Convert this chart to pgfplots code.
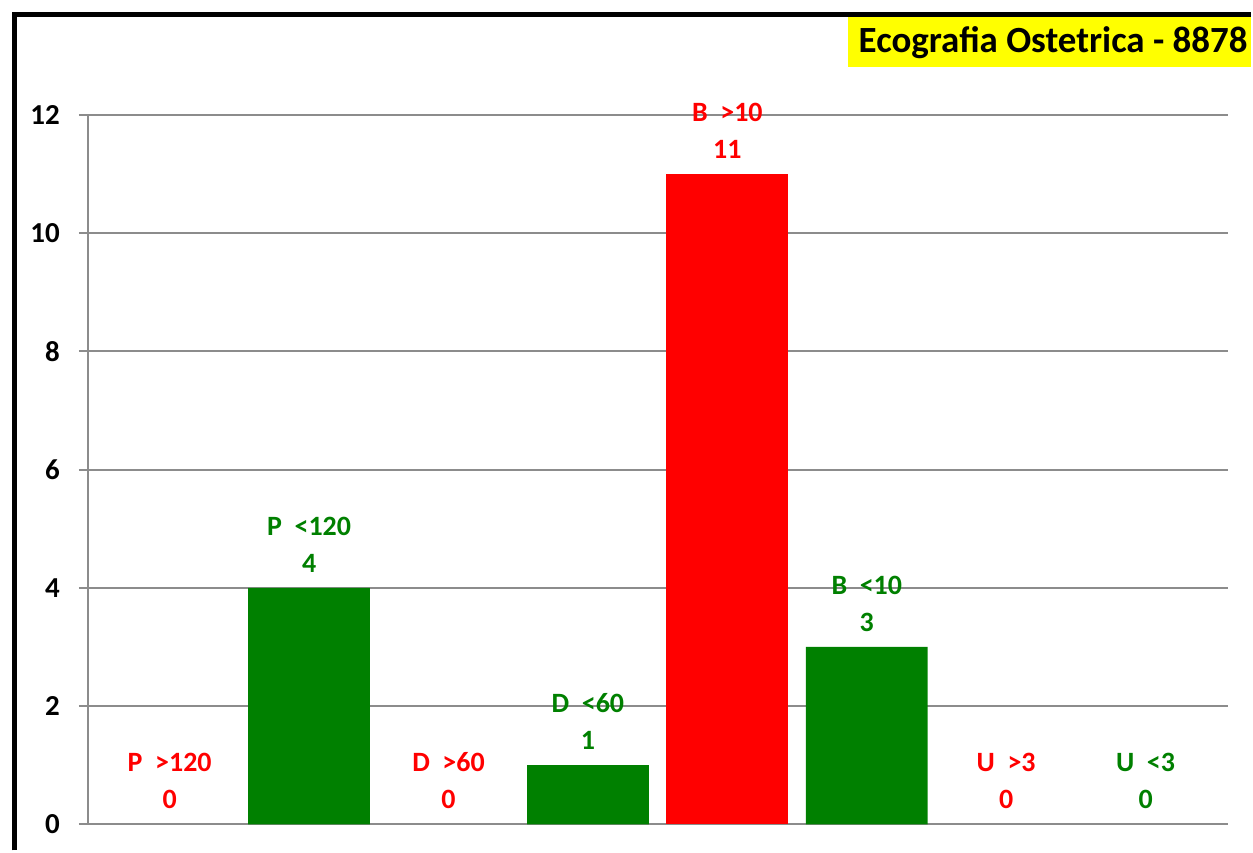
\documentclass[border=0pt]{standalone}
\usepackage{pgfplots}
\pgfplotsset{compat=1.18}
\usepackage{pgfplotstable}
\usepackage{fontspec}
\setmainfont{Carlito}

\definecolor{barred}{RGB}{255,0,0}
\definecolor{bargreen}{RGB}{0,128,0}
\definecolor{gridgray}{RGB}{140,140,140}
\definecolor{titleyellow}{RGB}{255,255,0}

\def\gap{\kern0.45em}

% categorie "maggiore" (rosse) e "minore" (verdi)
\pgfplotstableread[col sep=comma]{
x,y,name
0,0,P\gap>120
2,0,D\gap>60
4,11,B\gap>10
6,0,U\gap>3
}\redtab
\pgfplotstableread[col sep=comma]{
x,y,name
1,4,P\gap<120
3,1,D\gap<60
5,3,B\gap<10
7,0,U\gap<3
}\greentab

\begin{document}
\begin{tikzpicture}
\begin{axis}[
  scale only axis, width=571pt, height=355.5pt,
  xmin=-0.587, xmax=7.588, ymin=0, ymax=12,
  ytick={0,2,...,12}, xtick=\empty,
  axis lines=left,
  axis line style={-, draw=gridgray, line width=1pt},
  ymajorgrids, grid style={draw=gridgray, line width=1pt},
  tick align=outside, major tick length=4.5pt,
  tick style={draw=gridgray, line width=1pt},
  /pgf/number format/assume math mode=true,
  yticklabel style={font=\fontsize{14.5}{14.5}\selectfont\bfseries, text=black,
    xshift=-6pt},
  clip=false,
  bar width=61pt,
  every node near coord/.style={align=center, anchor=south, inner sep=0pt,
    yshift=7.5pt, font=\fontsize{14}{18.5}\selectfont\bfseries},
  labels/.style={only marks, mark=none, point meta=explicit symbolic,
    visualization depends on=rawy\as\rawy,
    nodes near coords={\pgfplotspointmeta\\\pgfmathprintnumber{\rawy}}},
]
% barre (i valori nulli non si disegnano)
\addplot[ybar, bar shift=0pt, fill=barred, draw=none,
  y filter/.expression={y==0 ? nan : y}]
  table[x=x, y=y]{\redtab};
\addplot[ybar, bar shift=0pt, fill=bargreen, draw=none,
  y filter/.expression={y==0 ? nan : y}]
  table[x=x, y=y]{\greentab};
% etichette
\addplot[labels, every node near coord/.append style={text=barred}]
  table[x=x, y=y, meta=name]{\redtab};
\addplot[labels, every node near coord/.append style={text=bargreen}]
  table[x=x, y=y, meta=name]{\greentab};
\end{axis}

% cornice e titolo, in pixel dell'immagine
\begin{scope}[shift={(-44pt,413pt)}, x=0.5pt, y=-0.5pt]
  \path (0,0) rectangle (1253,852);
  \draw[line width=2.5pt] (14.5,852) -- (14.5,14.5) -- (1253,14.5);
  \fill[titleyellow] (850,17) rectangle (1253,67);
  \node[anchor=base west, inner sep=0pt, font=\fontsize{18.5}{20}\selectfont\bfseries]
    at (860,53) {Ecografia Ostetrica - 8878};
\end{scope}
\end{tikzpicture}
\end{document}
